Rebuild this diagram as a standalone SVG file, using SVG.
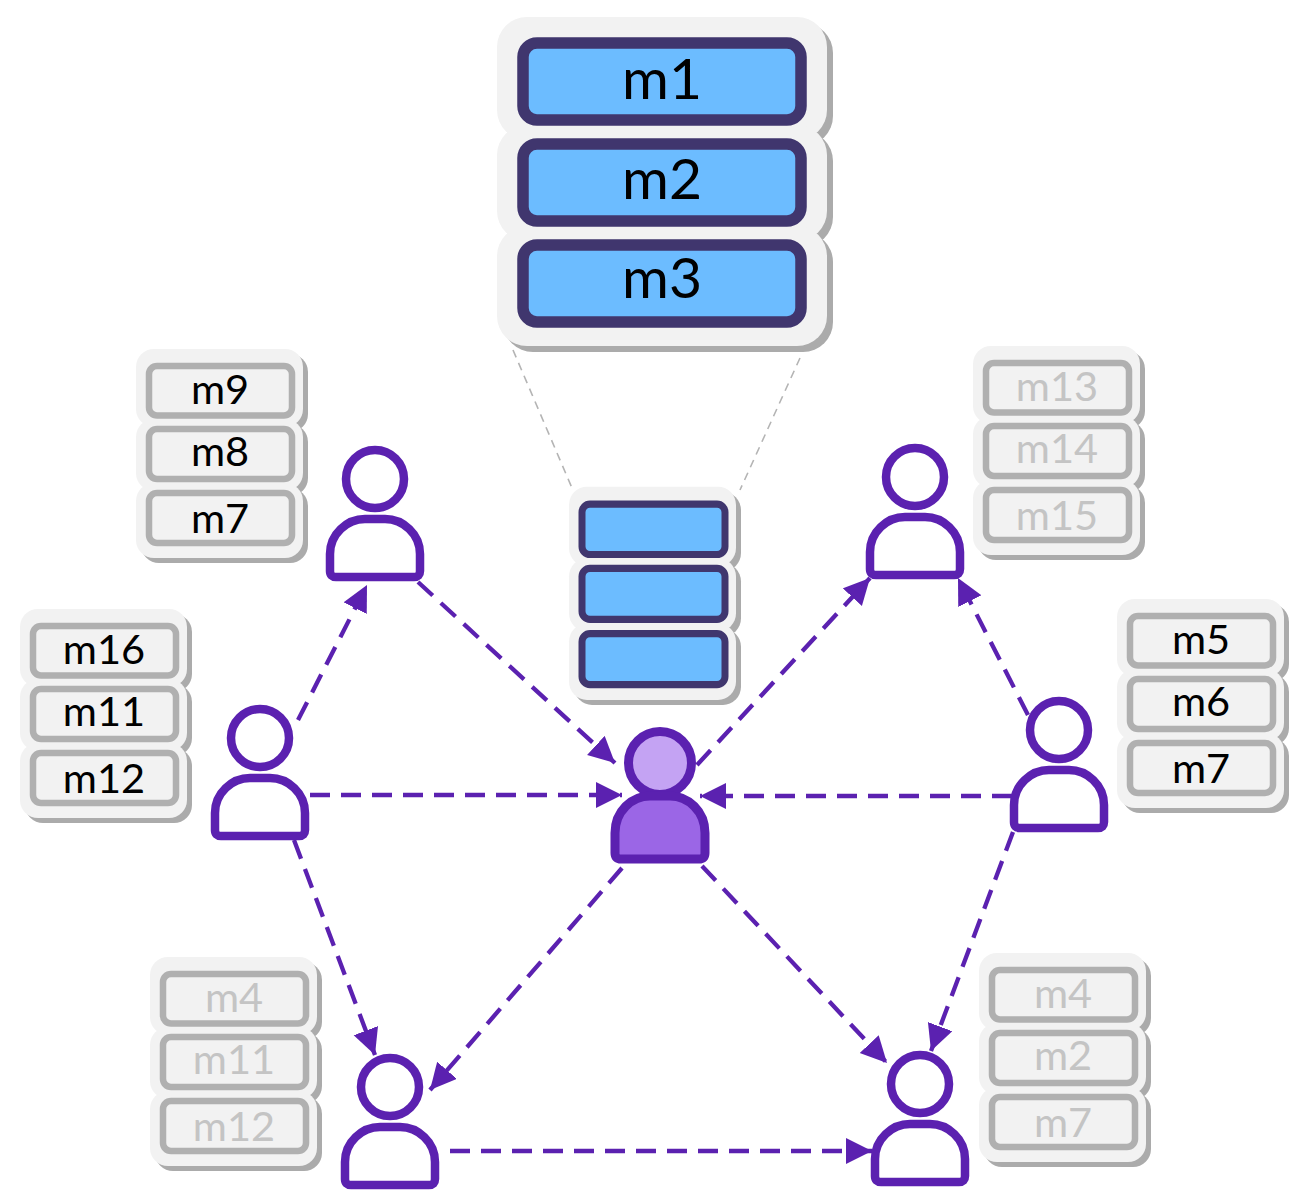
<svg xmlns="http://www.w3.org/2000/svg" width="1290" height="1194" viewBox="0 0 1290 1194">
<style>
text{font-family:"Lato","Open Sans","Liberation Sans",sans-serif;text-anchor:middle}
.big{font-size:57px;fill:#000}
.lbl{font-size:41.500px;fill:#000}
.dim{font-size:41.500px;fill:#c4c4c4}
.shadow{fill:#ababab}
.panel{fill:#f2f2f2}
.cell{fill:#f2f2f2;stroke:#b0b0b0;stroke-width:6.5}
.bcell{fill:#6cbcff;stroke:#40366e;stroke-width:7}
.bigcell{fill:#6cbcff;stroke:#40366e;stroke-width:11.5}
.person{fill:#fff;stroke:#5b21b0;stroke-width:8.5;stroke-linejoin:round}
#me circle{fill:#c4a3f3}
#me path{fill:#9b66e6}
#me{stroke-width:9}
.flow{fill:none;stroke:#5b21b0;stroke-width:4.3;stroke-dasharray:20 11;marker-end:url(#arrow)}
.guide{fill:none;stroke:#b4b4b4;stroke-width:1.6;stroke-dasharray:8 6}
</style>
<defs>
<marker id="arrow" markerUnits="userSpaceOnUse" markerWidth="28" markerHeight="28" refX="26" refY="13" orient="auto">
<path d="M0 0L26 13L0 26Z" fill="#5b21b0"/>
</marker>
<g id="lobes">
<rect x="-10" y="-14" width="167" height="78" rx="18"/>
<rect x="-10" y="56" width="167" height="72" rx="18"/>
<rect x="-10" y="120" width="167" height="75" rx="18"/>
</g>
<g id="panelS">
<use href="#lobes" class="shadow" x="5" y="5"/>
<use href="#lobes" class="panel"/>
</g>
<g id="lobesB">
<rect x="497" y="17" width="330" height="123" rx="30"/>
<rect x="497" y="125" width="330" height="116" rx="30"/>
<rect x="497" y="226" width="330" height="120" rx="30"/>
</g>
<g id="rows">
<rect x="3" y="3" width="143" height="49.500" rx="8"/>
<rect x="3" y="66" width="143" height="50" rx="8"/>
<rect x="3" y="130" width="143" height="50" rx="8"/>
</g>
<g id="personShape">
<circle cx="0" cy="0" r="29"/>
<path d="M-45 92V75C-45 55-28 40-10 40H10C28 40 45 55 45 75V92Q45 98 39 98H-39Q-45 98-45 92Z"/>
</g>
</defs>

<g id="connectors">
<path class="guide" d="M513 350L572 488"/>
<path class="guide" d="M800 358L740 490"/>
<path class="flow" d="M298 720L367 585"/>
<path class="flow" d="M418 582L615 763"/>
<path class="flow" d="M310 795H622"/>
<path class="flow" d="M294 840L375 1055"/>
<path class="flow" d="M622 868L430 1090"/>
<path class="flow" d="M702 866L887 1063"/>
<path class="flow" d="M697 765L870 578"/>
<path class="flow" d="M1028 715L958 578"/>
<path class="flow" d="M1012 796H700"/>
<path class="flow" d="M1013 832L931 1051"/>
<path class="flow" d="M450 1151H872"/>
</g>

<g id="store-detail">
<use href="#lobesB" class="shadow" x="6" y="6"/>
<use href="#lobesB" class="panel"/>
<rect class="bigcell" x="523" y="43" width="278" height="77" rx="14"/>
<rect class="bigcell" x="523" y="144" width="278" height="77" rx="14"/>
<rect class="bigcell" x="523" y="245" width="278" height="77" rx="14"/>
<text class="big" x="662" y="99">m1</text>
<text class="big" x="662" y="199">m2</text>
<text class="big" x="662" y="298">m3</text>
</g>

<g id="store-center" transform="translate(579 501) scale(1 1.02)">
<use href="#panelS"/>
<use href="#rows" class="bcell"/>
</g>

<g id="store-m9" transform="translate(146 363)">
<use href="#panelS"/><use href="#rows" class="cell"/>
<text class="lbl" x="74" y="40.500">m9</text><text class="lbl" x="74" y="102.500">m8</text><text class="lbl" x="74" y="169.500">m7</text>
</g>
<g id="store-m16" transform="translate(30 623)">
<use href="#panelS"/><use href="#rows" class="cell"/>
<text class="lbl" x="74" y="40.500">m16</text><text class="lbl" x="74" y="102.500">m11</text><text class="lbl" x="74" y="169.500">m12</text>
</g>
<g id="store-m13" transform="translate(983 360)">
<use href="#panelS"/><use href="#rows" class="cell"/>
<text class="dim" x="74" y="40.500">m13</text><text class="dim" x="74" y="102.500">m14</text><text class="dim" x="74" y="169.500">m15</text>
</g>
<g id="store-m5" transform="translate(1127 613)">
<use href="#panelS"/><use href="#rows" class="cell"/>
<text class="lbl" x="74" y="40.500">m5</text><text class="lbl" x="74" y="102.500">m6</text><text class="lbl" x="74" y="169.500">m7</text>
</g>
<g id="store-m4-left" transform="translate(160 971)">
<use href="#panelS"/><use href="#rows" class="cell"/>
<text class="dim" x="74" y="40.500">m4</text><text class="dim" x="74" y="102.500">m11</text><text class="dim" x="74" y="169.500">m12</text>
</g>
<g id="store-m4-right" transform="translate(989 967)">
<use href="#panelS"/><use href="#rows" class="cell"/>
<text class="dim" x="74" y="40.500">m4</text><text class="dim" x="74" y="102.500">m2</text><text class="dim" x="74" y="169.500">m7</text>
</g>

<g id="peer-top-left" class="person" transform="translate(375 479)"><use href="#personShape"/></g>
<g id="peer-left" class="person" transform="translate(260 738)"><use href="#personShape"/></g>
<g id="peer-top-right" class="person" transform="translate(915 477)"><use href="#personShape"/></g>
<g id="peer-right" class="person" transform="translate(1059 730)"><use href="#personShape"/></g>
<g id="peer-bottom-left" class="person" transform="translate(390 1087)"><use href="#personShape"/></g>
<g id="peer-bottom-right" class="person" transform="translate(920 1084)"><use href="#personShape"/></g>
<g id="me" class="person" transform="translate(660 763)">
<circle cx="0" cy="0" r="31.500"/>
<path d="M-45 90V70C-45 48-28 33-10 33H10C28 33 45 48 45 70V90Q45 96 39 96H-39Q-45 96-45 90Z"/>
</g>
</svg>
